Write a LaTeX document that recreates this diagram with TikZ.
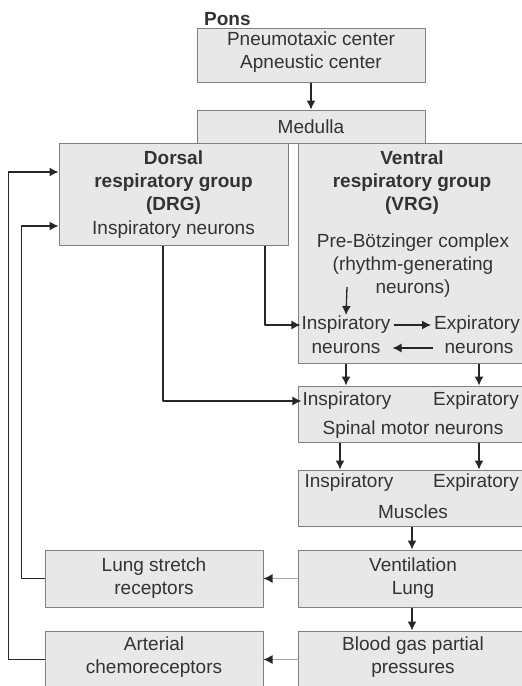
\documentclass[tikz,border=0pt]{standalone}
\usepackage{fontspec}
\setmainfont{Liberation Sans}
\usetikzlibrary{arrows.meta}
\definecolor{boxfill}{HTML}{E8E8E8}
\definecolor{boxline}{HTML}{808080}
\definecolor{ink}{HTML}{333333}
\begin{document}
\begin{tikzpicture}[x=1pt,y=-1pt,line join=round,font=\fontsize{19}{23}\selectfont,
  >={Latex[length=9pt,width=9pt]},
  box/.style={draw=boxline,fill=boxfill,line width=1pt,minimum width=228pt,inner sep=0pt,text=ink},
  txt/.style={text=ink,align=center,inner sep=1pt},
  hd/.style={txt,font=\fontsize{19}{23}\selectfont\bfseries},
  arr/.style={->,line width=1.3pt,draw=black!85},
  garr/.style={-{Latex[length=9pt,width=9pt,color=black!85]},line width=1.3pt,draw=black!35}]
\useasboundingbox (0,0) rectangle (522,686);
% pons and medulla
\node[box,minimum height=54pt] (pons) at (311,55) {};
\node[txt] (ponstxt) at (311,52) {Pneumotaxic center\\Apneustic center};
\node[hd,anchor=west] (ponslbl) at (203,19) {Pons};
\node[box,minimum height=33pt] (med) at (311,126.5) {Medulla};
\draw[arr] (pons) -- (med);
% dorsal group
\node[box,minimum width=229pt,minimum height=102pt] (drg) at (173.5,194) {};
\node[hd] (drghd) at (173.5,183) {Dorsal\\respiratory group\\(DRG)};
\node[txt] (drgtxt) at (173.5,230) {Inspiratory neurons};
% ventral group
\node[box,minimum height=220pt] (vrg) at (412,253) {};
\node[hd] (vrghd) at (412,183) {Ventral\\respiratory group\\(VRG)};
\node[txt] (preb) at (413,266) {Pre-Bötzinger complex\\(rhythm-generating\\neurons)};
\coordinate (pbout) at (347,287);
\node[txt] (vi1) at (346,325) {Inspiratory};
\node[txt] (vi2) at (346,348) {neurons};
\node[txt] (ve1) at (477,325) {Expiratory};
\node[txt] (ve2) at (479,348) {neurons};
\draw[arr] (pbout) -- (vi1.north);
\draw[arr] ([xshift=2pt]vi1.east) -- ([xshift=-2pt]ve1.west);
\draw[arr] ([xshift=-10pt]ve2.west) -- ([xshift=11pt]vi2.east);
% spinal motor neurons
\node[box,minimum height=56pt] (spinal) at (412,414) {};
\node[txt] (si) at (347,401) {Inspiratory};
\node[txt] (se) at (476,401) {Expiratory};
\node[txt] (stxt) at (413,430) {Spinal motor neurons};
\foreach \c in {vi2,ve2}
  \draw[arr] (vrg.south -| \c) -- (spinal.north -| \c);
% muscles
\node[box,minimum height=56pt] (mus) at (412,498) {};
\node[txt] (mi) at (349,483) {Inspiratory};
\node[txt] (me) at (476,483) {Expiratory};
\node[txt] (mtxt) at (413,512) {Muscles};
\draw[arr] ([xshift=-9pt]spinal.south -| mi) -- ([xshift=-9pt]mus.north -| mi);
\draw[arr] (spinal.south -| ve2) -- (mus.north -| ve2);
% lung and blood
\node[box,minimum height=57pt] (vent) at (412,578.5) {};
\node[txt] (venttxt) at (413,578) {Ventilation\\Lung};
\node[box,minimum height=57pt] (blood) at (412,659.5) {};
\node[txt] (bloodtxt) at (413,657) {Blood gas partial\\pressures};
\draw[arr] (mus) -- (vent);
\draw[arr] (vent) -- (blood);
% receptors
\node[box,minimum width=218pt,minimum height=57pt] (lung) at (154,578.5) {};
\node[txt] (lungtxt) at (154,578) {Lung stretch\\receptors};
\node[box,minimum width=218pt,minimum height=57pt] (art) at (154,659.5) {};
\node[txt] (arttxt) at (154,657) {Arterial\\chemoreceptors};
\draw[garr] (vent) -- (lung);
\draw[garr] (blood) -- (art);
% paths back to the DRG
\draw[arr] ([xshift=91.5pt]drg.south) |- (vi1.west);
\draw[arr] ([xshift=-10.5pt]drg.south) |- (si.west);
\draw[arr] (art.west) -- ++(-36,0) |- ([yshift=22pt]drg.west);
\draw[arr] (lung.west) -- ++(-23,0) |- ([yshift=-32pt]drg.west);
\end{tikzpicture}
\end{document}
